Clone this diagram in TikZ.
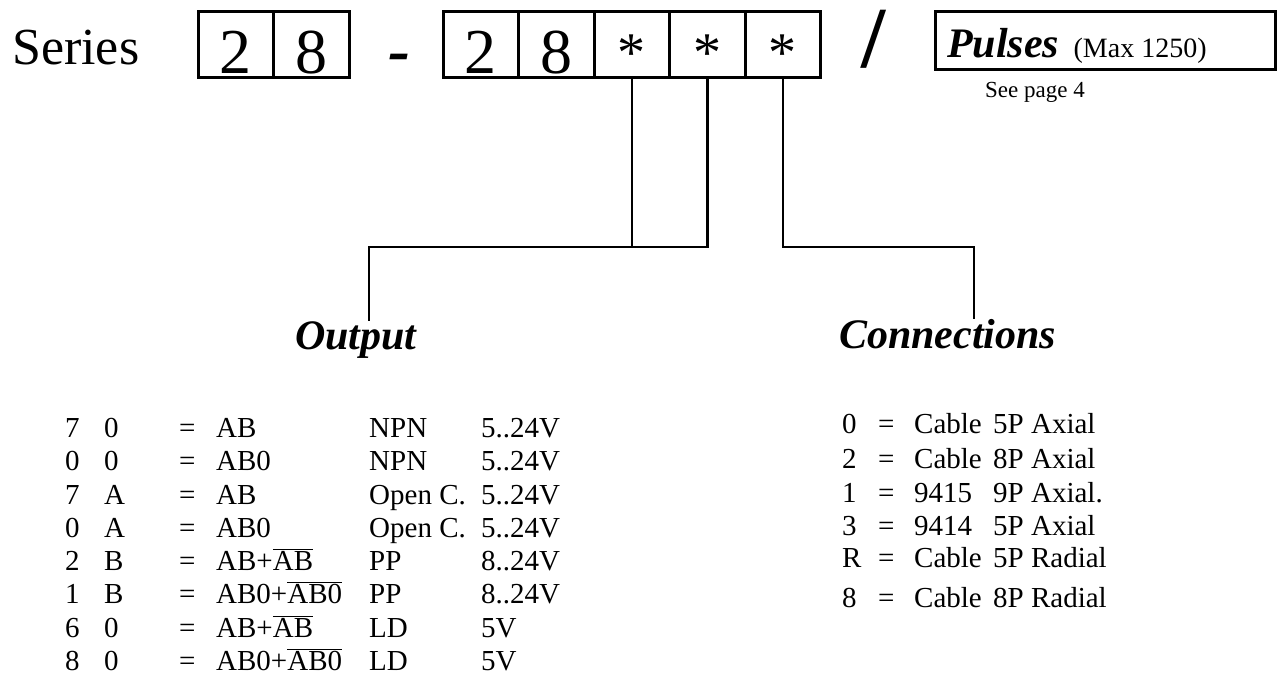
\documentclass[tikz,border=0pt]{standalone}
\usepackage{fontspec}
\setmainfont{Liberation Serif}
\usetikzlibrary{positioning}

\tikzset{
  cell/.style={draw,line width=3pt,outer sep=0pt,inner sep=0pt,
    minimum width=75.5pt,minimum height=66pt,
    text height=58pt,text depth=0pt,font=\fontsize{64}{70}\selectfont},
  starcell/.style={cell,text height=54pt,font=\fontsize{56}{60}\selectfont},
  lead/.style={line width=2.5pt},
  row/.style={anchor=base west,inner sep=0pt,font=\fontsize{29}{33}\selectfont},
  head/.style={anchor=base west,inner sep=0pt,font=\fontsize{42}{48}\selectfont\bfseries\itshape},
}

\begin{document}
\begin{tikzpicture}[x=1pt,y=-1pt]

\useasboundingbox (0,0) rectangle (1278,677);

%------------------------
% Series 28 - 28***
%------------------------
\node[anchor=base west,inner sep=0pt,font=\fontsize{52}{60}\selectfont] (series) at (12,65) {Series};

\node[cell] (s1) at (235.75,45) {2};
\node[cell,right=0pt of s1] (s2) {8};

\node[anchor=base,inner sep=0pt,font=\fontsize{66}{70}\selectfont\bfseries\itshape] (dash) at (399.5,73) {-};

\node[cell] (k1) at (480.75,45) {2};
\node[cell,right=0pt of k1] (k2) {8};
\node[starcell,right=0pt of k2] (k3) {*};
\node[starcell,right=0pt of k3] (k4) {*};
\node[starcell,right=0pt of k4] (k5) {*};

\node[anchor=base,inner sep=0pt,font=\fontsize{87}{90}\selectfont\bfseries] (slash) at (874,68) {/};

%------------------------
% Pulses box
%------------------------
\node[draw,line width=3pt,outer sep=0pt,minimum width=340pt,minimum height=58pt] (pulsebox) at (1105,41) {};
\node[anchor=base west,inner sep=0pt,font=\fontsize{42}{48}\selectfont\bfseries\itshape] (pulses) at (947,58) {Pulses};
\node[anchor=base west,inner sep=0pt,xshift=14pt,font=\fontsize{28}{32}\selectfont] (maxnote) at (pulses.base east) {(Max 1250)};
\node[anchor=base west,inner sep=0pt,font=\fontsize{23}{26}\selectfont] (seepage) at (985,98) {See page 4};

%------------------------
% Headings
%------------------------
\node[head] (outhead) at (295,349) {Output};
\node[head] (conhead) at (839,348) {Connections};

\coordinate (outbend) at (369,247);
\coordinate (conbend) at (974,247);

%------------------------
% Leads from the cells
%------------------------
\draw[lead] (k3.south) |- (outbend) -- (outbend |- outhead.north);
\draw[lead] (k4.south) |- (k3.south |- outbend);
\draw[lead] (k5.south) |- (conbend) -- (conbend |- conhead.north);

%------------------------
% Output codes
%------------------------
\foreach \y/\a/\b/\ex/\ty/\vo [count=\i] in {
  437/7/0/{AB}/{NPN}/{5..24V},
  470/0/0/{AB0}/{NPN}/{5..24V},
  504/7/A/{AB}/{Open C.}/{5..24V},
  537/0/A/{AB0}/{Open C.}/{5..24V},
  570/2/B/{AB+$\overline{\mbox{AB}}$}/{PP}/{8..24V},
  603/1/B/{AB0+$\overline{\mbox{AB0}}$}/{PP}/{8..24V},
  637/6/0/{AB+$\overline{\mbox{AB}}$}/{LD}/{5V},
  670/8/0/{AB0+$\overline{\mbox{AB0}}$}/{LD}/{5V}}{
  \node[row] (oa\i) at (65,\y) {\a};
  \node[row] (ob\i) at (104,\y) {\b};
  \node[row] (oq\i) at (179,\y) {=};
  \node[row] (oe\i) at (216,\y) {\ex};
  \node[row] (ot\i) at (369,\y) {\ty};
  \node[row] (ov\i) at (481,\y) {\vo};
}

%------------------------
% Connection codes
%------------------------
\foreach \y/\a/\c/\d [count=\i] in {
  433/0/Cable/{5P Axial},
  468/2/Cable/{8P Axial},
  502/1/9415/{9P Axial.},
  535/3/9414/{5P Axial},
  567/R/Cable/{5P Radial},
  607/8/Cable/{8P Radial}}{
  \node[row] (ca\i) at (842,\y) {\a};
  \node[row] (cq\i) at (878,\y) {=};
  \node[row] (cc\i) at (914,\y) {\c};
  \node[row] (cd\i) at (993,\y) {\d};
}

\end{tikzpicture}
\end{document}
